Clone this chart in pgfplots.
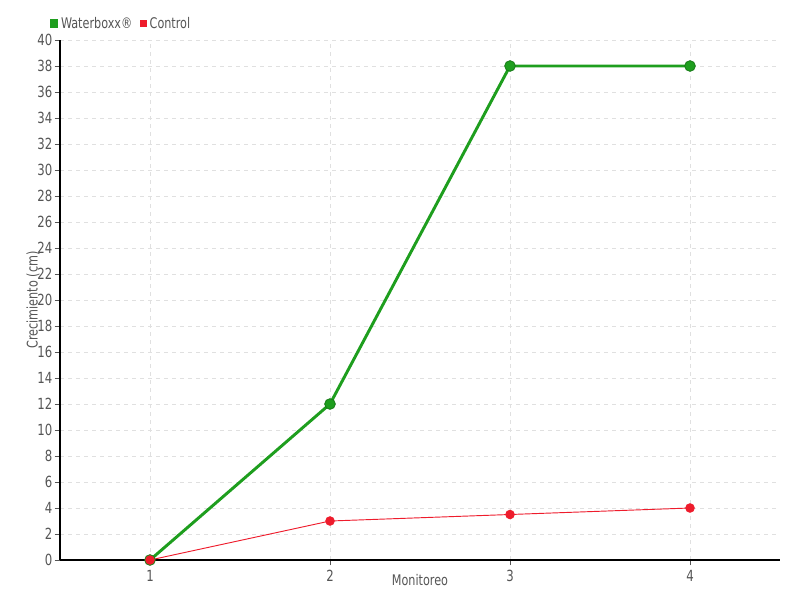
\documentclass[border=0pt]{standalone}
\usepackage{pgfplots}
\pgfplotsset{compat=1.18}
\usepackage{fontspec}
\setmainfont{DejaVu Sans Condensed}[FakeStretch=0.85]
\definecolor{wgreen}{HTML}{1E9E1E}
\definecolor{wgreendark}{HTML}{157A15}
\definecolor{cred}{HTML}{EE1C2C}
\definecolor{tickgray}{HTML}{555555}
\definecolor{gridgray}{HTML}{E0E0E0}
\begin{document}
\begin{tikzpicture}
\begin{axis}[
  scale only axis,
  width=540pt, height=390pt,
  xmin=0.5, xmax=4.5, ymin=0, ymax=40,
  xtick={1,2,3,4}, ytick={0,2,...,40},
  axis x line*=bottom, axis y line*=left,
  axis line style={black, line width=0.9pt, -},
  tick style={tickgray, line width=0.6pt},
  major tick length=4pt,
  xtick pos=bottom, ytick pos=left,
  tick align=outside,
  grid=major,
  major grid style={gridgray, dashed, line width=0.6pt},
  tick label style={font=\fontsize{11.5}{13}\selectfont, text=tickgray},
  yticklabel style={inner sep=1.5pt},
  /pgf/number format/assume math mode=true,
  xlabel={Monitoreo}, ylabel={Crecimiento (cm)},
  label style={font=\fontsize{11}{12}\selectfont, text=tickgray},
  xlabel style={at={(axis description cs:0.5,-0.0385)}, anchor=center},
  ylabel style={at={(axis description cs:-0.0375,0.5)}, anchor=center},
  legend style={at={(0,1)}, anchor=south west, xshift=-11pt, yshift=3pt, draw=none, fill=none,
    font=\fontsize{11}{12}\selectfont, text=tickgray, legend columns=2,
    /tikz/every even column/.append style={column sep=4pt}},
  legend image code/.code={\fill[#1] (0pt,-2.2pt) rectangle (4.4pt,2.2pt);},
  legend cell align=left,
  clip=false,
]
\addplot[wgreen, line width=2.2pt, mark=*, mark size=4pt,
  mark options={fill=wgreen, draw=wgreendark, line width=0.6pt}]
  coordinates {(1,0) (2,12) (3,38) (4,38)};
\addlegendentry{Waterboxx®}
\addplot[cred, line width=0.7pt, mark=*, mark size=3.2pt,
  mark options={fill=cred, draw=cred}]
  coordinates {(1,0) (2,3) (3,3.5) (4,4)};
\addlegendentry{Control}
\end{axis}
\path ([shift={(-45pt,-30pt)}]current axis.south west) rectangle ([shift={(15pt,30pt)}]current axis.north east);
\end{tikzpicture}
\end{document}
